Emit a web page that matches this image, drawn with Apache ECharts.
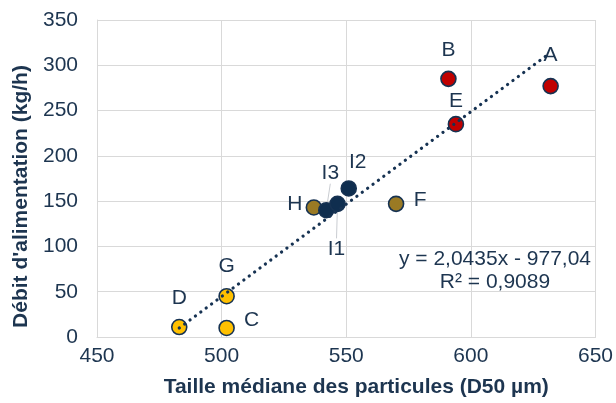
<!DOCTYPE html>
<html><head><meta charset="utf-8">
<script src="https://cdn.jsdelivr.net/npm/echarts@6/dist/echarts.min.js"></script>
<style>html,body{margin:0;padding:0;background:#fff}#c{width:616px;height:403px}</style>
</head><body><div id="c"></div>
<script>
// Data
var names = ['A','B','E','F','H','I2','I3','I1','G','C','D'];
var xs    = [632, 591, 594, 570, 537, 551, 542, 546.5, 502, 502, 483];
var ys    = [277, 285, 235, 147, 143, 164, 140, 147, 45, 10, 11];
var groups= ['red','red','red','olive','olive','navy','navy','navy','yellow','yellow','yellow'];
var trendX = [483, 631];
var trendY = [10, 312];
var xTicks = [450, 500, 550, 600, 650];
var yTicks = [0, 50, 100, 150, 200, 250, 300, 350];
var eqText = ['y = 2,0435x - 977,04', 'R² = 0,9089'];

var TXT = '#1d3550';
var NAVY = '#163252';
var FONT = 'Liberation Sans';
var FS = 21;
var fills = {red:'#c00000', olive:'#9a7a24', navy:'#0f2e4f', yellow:'#ffc000'};
var labelMoves = {
  A:[0,-31], B:[0,-29], E:[0,-23], F:[24,-4], H:[-19,-3], I2:[9,-26],
  I3:[4,-37], I1:[-1,45],
  G:[0,-30], C:[25,-8], D:[0,-29]
};
var leader = {I3:true, I1:true};

var data = names.map(function(n,i){
  return {name:n, value:[xs[i], ys[i]], itemStyle:{color:fills[groups[i]]},
    label:{show:true, position:'inside', formatter:n},
    labelLine:{show:!!leader[n], lineStyle:{color:'#c9ccd1', width:1}}};
});

var chart = echarts.init(document.getElementById('c'), null, {renderer:'canvas'});
chart.setOption({
  animation:false,
  grid:{left:97, right:19, top:20, bottom:64, containLabel:false},
  xAxis:{type:'value', min:xTicks[0], max:xTicks[xTicks.length-1], interval:50,
    name:'Taille médiane des particules (D50 µm)', nameLocation:'middle', nameGap:40,
    nameTextStyle:{color:TXT, fontSize:FS, fontWeight:'bold', fontFamily:FONT, padding:[0,0,0,20]},
    axisLine:{show:true, lineStyle:{color:'#d9d9d9'}}, axisTick:{show:false},
    axisLabel:{color:TXT, fontSize:FS, fontFamily:FONT, margin:9},
    splitLine:{show:true, lineStyle:{color:'#d9d9d9', width:1}}},
  yAxis:{type:'value', min:yTicks[0], max:yTicks[yTicks.length-1], interval:50,
    name:"Débit d'alimentation (kg/h)", nameLocation:'middle', nameGap:61,
    nameTextStyle:{color:TXT, fontSize:FS, fontWeight:'bold', fontFamily:FONT, padding:[0,36,0,0]},
    axisLine:{show:true, lineStyle:{color:'#d9d9d9'}}, axisTick:{show:false},
    axisLabel:{color:TXT, fontSize:FS, fontFamily:FONT, margin:19},
    splitLine:{show:true, lineStyle:{color:'#d9d9d9', width:1}}},
  series:[
    {type:'scatter', data:data, symbol:'circle', symbolSize:15, z:2,
      itemStyle:{borderColor:NAVY, borderWidth:1.6, opacity:1},
      label:{color:TXT, fontSize:FS, fontFamily:FONT},
      labelLayout:function(p){
        var m = labelMoves[names[p.dataIndex]];
        return {dx:m[0], dy:m[1]};
      }},
    {type:'line', data:trendX.map(function(x,i){return [x, trendY[i]];}), symbol:'none', z:3,
      lineStyle:{color:NAVY, width:3.2, type:[0.1, 6.6], cap:'round'}, silent:true}
  ],
  graphic:[{type:'text', x:495, y:248, z:10,
    style:{text:eqText[0]+'\n'+eqText[1], fill:TXT, font:FS+'px "'+FONT+'"', align:'center', lineHeight:23}}]
});
</script></body></html>
